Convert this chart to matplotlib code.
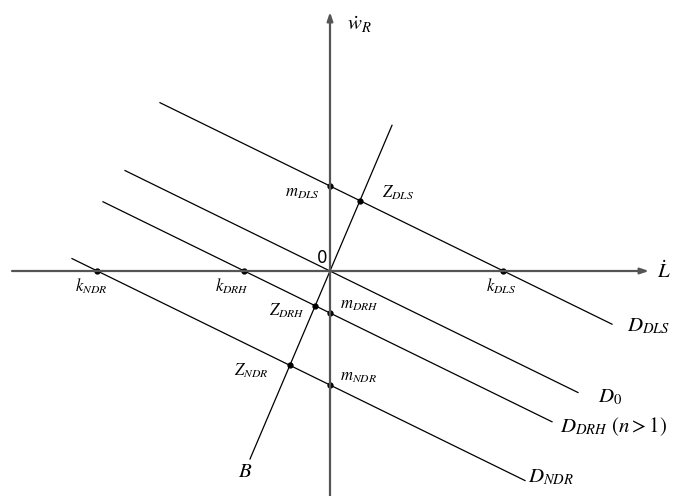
import numpy as np
import matplotlib
matplotlib.use("Agg")
import matplotlib.pyplot as plt

plt.rcParams['mathtext.fontset'] = 'stix'

# Parallel lines D: common slope, intercepts on vertical axis, x extents
line_names = ["D_DLS", "D_0", "D_DRH", "D_NDR"]
line_slope = -0.49
line_intercepts = [85, 0, -42, -114]
line_x_start = [-170, -205, -227, -258]
line_x_end = [282, 248, 222, 195]
line_labels = [r"$D_{DLS}$", r"$D_0$", r"$D_{DRH}\ (n>1)$", r"$D_{NDR}$"]

# Line B through origin
b_slope = 2.35
b_x_range = [-80, 62]

# Point labels
m_labels = [r"$m_{DLS}$", None, r"$m_{DRH}$", r"$m_{NDR}$"]
k_labels = [r"$k_{DLS}$", None, r"$k_{DRH}$", r"$k_{NDR}$"]
z_labels = [r"$Z_{DLS}$", None, r"$Z_{DRH}$", r"$Z_{NDR}$"]

fig = plt.figure(figsize=(6.85, 4.96), dpi=100)
ax = fig.add_axes([0, 0, 1, 1])
ax.set_xlim(-330, 355)
ax.set_ylim(-225, 271)
ax.axis('off')

axis_col = '#555555'
arrow = dict(arrowstyle='-|>,head_length=0.5,head_width=0.17',
             color=axis_col, lw=1.6, shrinkA=0, shrinkB=0)
# Horizontal axis
ax.annotate('', xy=(319, 0), xytext=(-318, 0), arrowprops=arrow)
# Vertical axis
ax.annotate('', xy=(0, 259), xytext=(0, -226), arrowprops=arrow)

ax.text(327, 0, r"$\dot{L}$", fontsize=15, va='center', ha='left')
ax.text(17, 246, r"$\dot{w}_R$", fontsize=15, va='center', ha='left')
ax.text(-3, 4, "0", fontsize=12, ha='right', va='bottom', family='DejaVu Sans')

# Parallel lines
label_offsets = [(15, -2), (20, -4), (8, -5), (3, 4)]
for b, x0, x1, lab, off in zip(line_intercepts, line_x_start, line_x_end,
                               line_labels, label_offsets):
    xs = np.array([x0, x1])
    ax.plot(xs, line_slope * xs + b, color='black', lw=0.9)
    ax.text(x1 + off[0], line_slope * x1 + b + off[1], lab, fontsize=15,
            ha='left', va='center')

# Line B
bx = np.array(b_x_range)
ax.plot(bx, b_slope * bx, color='black', lw=0.9)
ax.text(bx[0] - 5, b_slope * bx[0] - 12, r"$B$", fontsize=15, ha='center', va='center')

# Label offsets
k_dx = [-2, None, -12, -6]
z_dx = [22, None, -10, -22]

for b, ml, kl, zl, kd, zd in zip(line_intercepts, m_labels, k_labels, z_labels,
                                 k_dx, z_dx):
    if ml is None:
        continue
    # m: intersection with vertical axis
    ax.plot(0, b, 'o', color='black', ms=3.5)
    # k: intersection with horizontal axis
    k = -b / line_slope
    ax.plot(k, 0, 'o', color='black', ms=3.5)
    # Z: intersection with B
    zx = b / (b_slope - line_slope)
    zy = b_slope * zx
    ax.plot(zx, zy, 'o', color='black', ms=3.5)
    if b > 0:
        ax.text(-10, b - 6, ml, fontsize=12, ha='right', va='center')
        ax.text(zx + zd, zy + 8, zl, fontsize=12, ha='left', va='center')
    else:
        ax.text(10, b + 9, ml, fontsize=12, ha='left', va='center')
        ax.text(zx + zd, zy - 5, zl, fontsize=12, ha='right', va='center')
    ax.text(k + kd, -15, kl, fontsize=12, ha='center', va='center')

fig.savefig('out.png', dpi=100, facecolor='white')
